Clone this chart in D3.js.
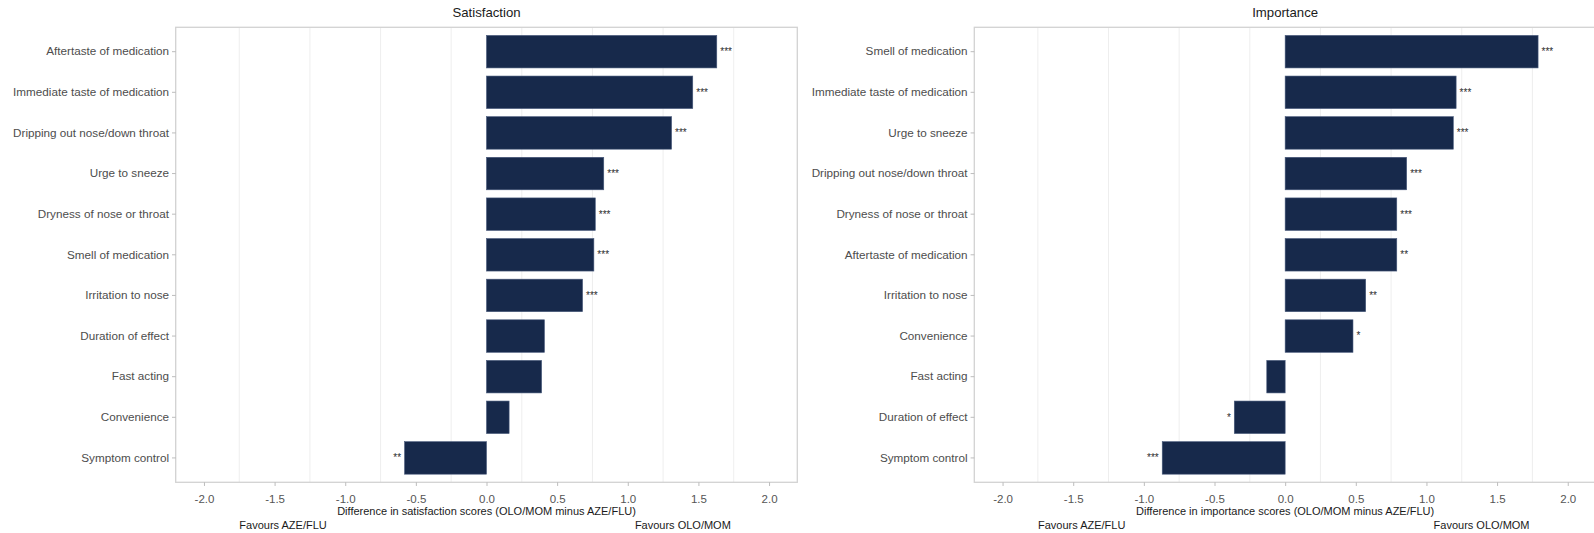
<!DOCTYPE html>
<html>
<head>
<meta charset="utf-8">
<script src="https://cdn.jsdelivr.net/npm/d3@7"></script>
<style>
  html, body { margin: 0; padding: 0; background: #ffffff; }
  svg { display: block; font-family: "Liberation Sans", Arial, Helvetica, sans-serif; }
</style>
</head>
<body>
<svg id="chart" width="1594" height="533"></svg>
<script>
// Satisfaction panel: mean differences (OLO/MOM minus AZE/FLU), top to bottom
const satCategories = [
  "Aftertaste of medication",
  "Immediate taste of medication",
  "Dripping out nose/down throat",
  "Urge to sneeze",
  "Dryness of nose or throat",
  "Smell of medication",
  "Irritation to nose",
  "Duration of effect",
  "Fast acting",
  "Convenience",
  "Symptom control"
];
const satValues = [1.63, 1.46, 1.31, 0.83, 0.77, 0.76, 0.68, 0.41, 0.39, 0.16, -0.58];
const satSignif = ["***", "***", "***", "***", "***", "***", "***", "", "", "", "**"];

// Importance panel
const impCategories = [
  "Smell of medication",
  "Immediate taste of medication",
  "Urge to sneeze",
  "Dripping out nose/down throat",
  "Dryness of nose or throat",
  "Aftertaste of medication",
  "Irritation to nose",
  "Convenience",
  "Fast acting",
  "Duration of effect",
  "Symptom control"
];
const impValues = [1.79, 1.21, 1.19, 0.86, 0.79, 0.79, 0.57, 0.48, -0.13, -0.36, -0.87];
const impSignif = ["***", "***", "***", "***", "***", "**", "**", "*", "", "*", "***"];

const xTicks = [-2.0, -1.5, -1.0, -0.5, 0.0, 0.5, 1.0, 1.5, 2.0];
const xDomain = [-2.2, 2.2];
const sideLabels = { left: "Favours AZE/FLU", right: "Favours OLO/MOM" };
const sideLabelAt = { left: -1.44, right: 1.39 };

const svg = d3.select("#chart");

const panelTop = 27.3, panelBottom = 482.3;
const barColor = "#17294b";

function drawPanel(opts) {
  const { x0, x1, title, categories, values, signif, axisTitle } = opts;
  const g = svg.append("g");

  const x = d3.scaleLinear().domain(xDomain).range([x0, x1]);
  const y = d3.scaleBand().domain(categories).range([panelTop, panelBottom])
    .paddingInner(0.2).paddingOuter(0.2);

  // faint grid lines halfway between labelled ticks
  const minor = d3.pairs(xTicks).map(([a, b]) => (a + b) / 2);
  g.append("g").selectAll("line").data(minor).join("line")
    .attr("x1", d => x(d)).attr("x2", d => x(d))
    .attr("y1", panelTop).attr("y2", panelBottom)
    .attr("stroke", "#ececec").attr("stroke-width", 0.9);

  // bars
  g.append("g").selectAll("rect").data(categories).join("rect")
    .attr("x", (d, i) => x(Math.min(0, values[i])))
    .attr("width", (d, i) => Math.abs(x(values[i]) - x(0)))
    .attr("y", d => y(d))
    .attr("height", y.bandwidth())
    .attr("fill", barColor)
    .attr("stroke", "#46587a").attr("stroke-width", 0.6);

  // significance stars
  g.append("g").selectAll("text").data(categories).join("text")
    .attr("x", (d, i) => values[i] >= 0 ? x(values[i]) + 3.5 : x(values[i]) - 3.5)
    .attr("y", d => y(d) + y.bandwidth() / 2 + 3.4)
    .attr("text-anchor", (d, i) => values[i] >= 0 ? "start" : "end")
    .attr("font-size", 10)
    .attr("fill", "#2b2b2b")
    .text((d, i) => signif[i]);

  // panel border
  g.append("rect")
    .attr("x", x0).attr("y", panelTop)
    .attr("width", x1 - x0).attr("height", panelBottom - panelTop)
    .attr("fill", "none").attr("stroke", "#d2d2d2").attr("stroke-width", 1.3);

  // x axis
  const xAxis = g.append("g")
    .attr("transform", `translate(0,${panelBottom})`)
    .call(d3.axisBottom(x).tickValues(xTicks).tickFormat(d3.format(".1f"))
      .tickSize(3.7).tickPadding(9));
  xAxis.select(".domain").remove();
  xAxis.selectAll(".tick line").attr("stroke", "#b5b5b5").attr("stroke-width", 0.9);
  xAxis.selectAll(".tick text")
    .attr("fill", "#555555").attr("font-size", 11.5)
    .attr("font-family", "Liberation Sans, Arial, sans-serif")
    .text(d => d3.format(".1f")(d).replace("−", "-"));

  // y axis
  const yAxis = g.append("g")
    .attr("transform", `translate(${x0},0)`)
    .call(d3.axisLeft(y).tickSize(3.7).tickPadding(3));
  yAxis.select(".domain").remove();
  yAxis.selectAll(".tick line").attr("stroke", "#b5b5b5").attr("stroke-width", 0.9);
  yAxis.selectAll(".tick text")
    .attr("fill", "#4d4d4d").attr("font-size", 11.7)
    .attr("font-family", "Liberation Sans, Arial, sans-serif");

  // panel title
  g.append("text")
    .attr("x", x(0)).attr("y", 17)
    .attr("text-anchor", "middle")
    .attr("font-size", 13.2).attr("fill", "#1a1a1a")
    .text(title);

  // axis title
  g.append("text")
    .attr("x", x(0)).attr("y", 515)
    .attr("text-anchor", "middle")
    .attr("font-size", 11).attr("fill", "#1a1a1a")
    .text(axisTitle);

  // direction labels
  g.append("text")
    .attr("x", x(sideLabelAt.left)).attr("y", 529)
    .attr("text-anchor", "middle")
    .attr("font-size", 11).attr("fill", "#1a1a1a")
    .text(sideLabels.left);
  g.append("text")
    .attr("x", x(sideLabelAt.right)).attr("y", 529)
    .attr("text-anchor", "middle")
    .attr("font-size", 11).attr("fill", "#1a1a1a")
    .text(sideLabels.right);
}

drawPanel({
  x0: 175.7, x1: 797.3,
  title: "Satisfaction",
  categories: satCategories, values: satValues, signif: satSignif,
  axisTitle: "Difference in satisfaction scores (OLO/MOM minus AZE/FLU)"
});

drawPanel({
  x0: 974.3, x1: 1596.0,
  title: "Importance",
  categories: impCategories, values: impValues, signif: impSignif,
  axisTitle: "Difference in importance scores (OLO/MOM minus AZE/FLU)"
});
</script>
</body>
</html>
